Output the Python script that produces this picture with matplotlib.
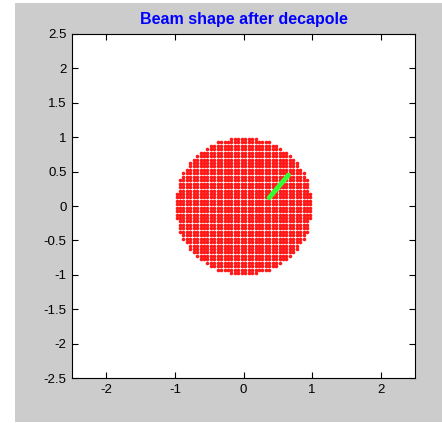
import numpy as np
import matplotlib
matplotlib.use("Agg")
import matplotlib.pyplot as plt
from matplotlib.patches import Rectangle

plt.rcParams['font.family'] = ['Liberation Sans', 'DejaVu Sans']

# Beam grid (initial beam): square grid of particles inside unit circle
grid_step = 0.05
beam_radius = 1.0
# Beam after decapole (green segment endpoints)
green_x = [0.375, 0.655]
green_y = [0.12, 0.45]

x_ticks = [-2, -1, 0, 1, 2]
y_ticks = [-2.5, -2, -1.5, -1, -0.5, 0, 0.5, 1, 1.5, 2, 2.5]
title = "Beam shape after decapole"

g = np.arange(-beam_radius + grid_step / 2, beam_radius, grid_step)
X, Y = np.meshgrid(g, g)
mask = X**2 + Y**2 <= beam_radius**2
bx, by = X[mask], Y[mask]

fig = plt.figure(figsize=(4.42, 4.23), dpi=100)
fig.patch.set_facecolor('white')
fig.patches.append(Rectangle((15/442, 1/423), 1 - 15/442, 419/423,
                             transform=fig.transFigure, facecolor='#cccccc',
                             edgecolor='none', zorder=-10))

ax = fig.add_axes([72/442, 45/423, 343/442, 344/423])
ax.set_facecolor('white')
ax.plot(bx, by, linestyle='none', marker='o', markersize=2.6,
        markeredgewidth=0, color='#ff0000', alpha=0.9)
ax.plot(green_x, green_y, color='#33ff33', linewidth=3.5, solid_capstyle='round')

ax.set_xlim(-2.5, 2.5)
ax.set_ylim(-2.5, 2.5)
ax.set_xticks(x_ticks)
ax.set_yticks(y_ticks)
ax.set_xticklabels([f"{t:g}" for t in x_ticks])
ax.set_yticklabels([f"{t:g}" for t in y_ticks])
ax.tick_params(direction='in', length=4, width=0.8, top=True, right=True,
               labelsize=9.5, colors='black', pad=4)
for s in ax.spines.values():
    s.set_linewidth(0.8)
ax.set_title(title, color='#0000ff', fontweight='bold', fontsize=11.5, pad=7)

fig.savefig("out.png", dpi=100, facecolor=fig.get_facecolor())
